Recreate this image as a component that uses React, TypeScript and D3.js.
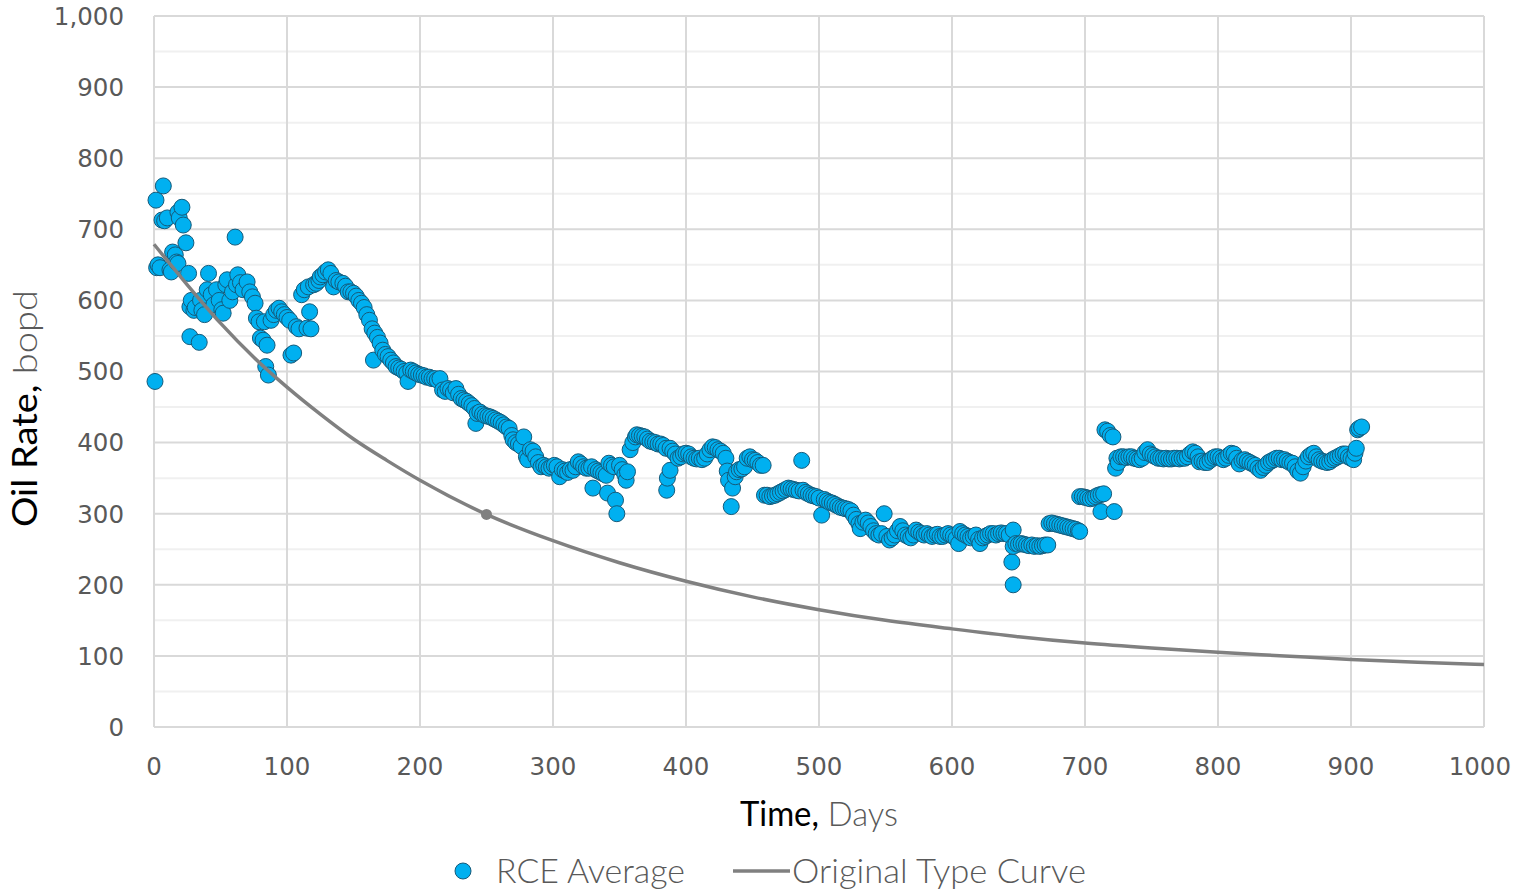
import React from "react";
import * as d3 from "d3";

const xTicks = [0, 100, 200, 300, 400, 500, 600, 700, 800, 900, 1000];
const yTicks = [0, 100, 200, 300, 400, 500, 600, 700, 800, 900, 1000];
const yMinor = [50, 150, 250, 350, 450, 550, 650, 750, 850, 950];

const typeCurve: [number, number][] = [
  [0, 679], [25, 622], [50, 568], [75, 520], [100, 478], [125, 440], [150, 405],
  [175, 375], [200, 347], [250, 299], [300, 262], [350, 231], [400, 205], [450, 183],
  [500, 165], [550, 150], [600, 138], [650, 127], [700, 118], [750, 111], [800, 105],
  [850, 100], [900, 95], [950, 91], [1000, 88],
];
const typeCurveMarker: [number, number] = [250, 299];

const rceAverage: [number, number][] = [
  [0.75, 486], [1.5, 741], [2, 646], [3, 650], [4.5, 646], [6, 713], [7, 761], [8, 712],
  [10, 716], [12, 643], [13, 640], [14, 668], [16, 664], [17, 654], [18, 652], [18, 724],
  [19, 716], [21, 731], [22, 706], [24, 681], [26, 638], [27, 591], [27, 549], [28, 600],
  [30, 586], [31, 590], [34, 541], [35, 600], [36, 586], [38, 580], [40, 615], [41, 638],
  [43, 608], [45, 594], [47, 615], [49, 600], [51, 587], [52, 582], [54, 622], [55, 629],
  [57, 600], [59, 612], [61, 689], [62, 622], [63, 636], [65, 625], [67, 615], [70, 626],
  [72, 612], [74, 605], [76, 596], [77, 575], [79, 570], [80, 547], [82, 544], [83, 570],
  [84, 507], [85, 537], [86, 495], [88, 572], [90, 580], [92, 586], [94, 589], [96, 584],
  [98, 580], [100, 576], [102, 572], [103, 523], [105, 526], [107, 563], [109, 560],
  [111, 608], [113, 615], [115, 561], [116, 619], [117, 584], [118, 560], [120, 622],
  [122, 624], [124, 628], [125, 633], [127, 636], [129, 640], [131, 643], [133, 638],
  [135, 619], [137, 628], [139, 626], [142, 624], [144, 620], [146, 612], [148, 612],
  [150, 610], [152, 606], [154, 600], [156, 596], [158, 590], [160, 580], [162, 572],
  [164, 560], [165, 516], [166, 554], [168, 548], [170, 540], [172, 530], [174, 524],
  [176, 521], [178, 516], [180, 512], [182, 507], [184, 505], [186, 503], [188, 500],
  [190, 498], [191, 486], [193, 502], [195, 500], [197, 498], [199, 496], [201, 495],
  [203, 494], [205, 492], [207, 492], [209, 490], [211, 490], [213, 488], [215, 490],
  [217, 474], [219, 472], [221, 476], [223, 474], [225, 470], [227, 476], [229, 468],
  [231, 462], [233, 460], [235, 458], [237, 455], [239, 452], [241, 448], [242, 427],
  [243, 441], [245, 443], [247, 440], [249, 438], [251, 437], [253, 436], [255, 434],
  [257, 432], [259, 430], [261, 428], [263, 425], [265, 422], [267, 420], [269, 410],
  [270, 404], [272, 400], [274, 398], [276, 395], [278, 408], [280, 380], [281, 376],
  [283, 390], [285, 388], [287, 380], [289, 372], [291, 366], [293, 368], [295, 366],
  [297, 364], [299, 366], [301, 368], [303, 366], [305, 352], [307, 362], [309, 360],
  [311, 358], [313, 362], [315, 361], [317, 366], [319, 373], [321, 370], [323, 366],
  [325, 364], [327, 364], [329, 366], [330, 336], [332, 362], [334, 360], [336, 358],
  [338, 356], [340, 354], [341, 329], [342, 371], [344, 368], [346, 366], [347, 319],
  [348, 300], [350, 368], [352, 362], [354, 355], [355, 347], [356, 359], [358, 390],
  [360, 400], [362, 408], [363, 411], [365, 410], [367, 409], [369, 408], [371, 405],
  [373, 402], [375, 401], [377, 400], [379, 398], [381, 398], [383, 396], [385, 392],
  [385.5, 333], [386, 350], [388, 361], [388, 392], [390, 388], [392, 384], [394, 378],
  [396, 380], [398, 384], [400, 385], [402, 384], [404, 380], [406, 378], [408, 377],
  [410, 378], [412, 376], [414, 378], [416, 384], [418, 390], [420, 394], [422, 393],
  [424, 390], [426, 388], [428, 385], [430, 378], [431, 360], [432, 347], [434, 310],
  [435, 336], [437, 352], [438, 359], [440, 362], [442, 363], [444, 366], [446, 378],
  [448, 380], [450, 376], [452, 375], [454, 372], [456, 368], [458, 368], [459, 326],
  [461, 326], [463, 324], [465, 325], [467, 326], [469, 328], [471, 330], [473, 332],
  [475, 334], [477, 336], [479, 335], [481, 334], [483, 333], [485, 332], [487, 375],
  [488, 333], [490, 330], [492, 328], [494, 326], [496, 325], [498, 324], [500, 322],
  [502, 298], [504, 320], [506, 318], [508, 316], [510, 315], [512, 313], [514, 311],
  [516, 309], [518, 308], [520, 307], [522, 306], [524, 304], [526, 298], [528, 292],
  [530, 286], [531, 279], [533, 288], [535, 291], [537, 287], [539, 282], [541, 276],
  [543, 272], [545, 270], [547, 272], [549, 300], [551, 268], [553, 263], [555, 266],
  [557, 270], [559, 276], [561, 282], [563, 276], [565, 270], [567, 268], [569, 266],
  [571, 270], [573, 277], [575, 274], [577, 272], [579, 270], [581, 272], [583, 270],
  [585, 268], [587, 270], [589, 271], [591, 268], [593, 268], [595, 270], [597, 272],
  [599, 270], [601, 268], [603, 265], [605, 258], [606, 275], [608, 272], [610, 270],
  [612, 268], [614, 266], [616, 268], [618, 270], [620, 264], [621, 258], [623, 266],
  [625, 268], [627, 270], [629, 272], [631, 272], [633, 270], [635, 272], [637, 273],
  [639, 272], [641, 272], [643, 270], [645, 232], [646, 277], [646, 254], [646, 200],
  [648, 258], [650, 257], [652, 258], [654, 257], [656, 256], [658, 255], [660, 256],
  [662, 254], [664, 255], [666, 254], [668, 255], [670, 256], [672, 256], [673, 286],
  [675, 287], [677, 286], [679, 285], [681, 284], [683, 283], [685, 282], [687, 281],
  [689, 280], [691, 279], [693, 278], [695, 276], [696, 275], [696, 324], [698, 324],
  [700, 323], [702, 322], [704, 321], [706, 322], [708, 324], [710, 326], [712, 303],
  [712, 327], [714, 328], [715, 418], [717, 416], [719, 410], [721, 408], [722, 303],
  [723, 364], [724, 378], [725, 372], [727, 380], [729, 380], [731, 379], [733, 380],
  [735, 380], [737, 378], [739, 377], [741, 376], [743, 378], [745, 386], [747, 390],
  [749, 384], [751, 382], [753, 380], [755, 378], [757, 378], [759, 377], [761, 378],
  [763, 377], [765, 377], [767, 378], [769, 378], [771, 377], [773, 378], [775, 378],
  [777, 380], [779, 384], [781, 387], [783, 385], [785, 380], [786, 373], [788, 374],
  [790, 372], [792, 372], [794, 375], [796, 378], [798, 380], [800, 380], [802, 378],
  [804, 376], [806, 378], [808, 382], [810, 385], [812, 384], [814, 378], [816, 370],
  [818, 375], [820, 376], [822, 374], [824, 372], [826, 370], [828, 368], [830, 364],
  [832, 361], [834, 365], [836, 368], [838, 372], [840, 374], [842, 376], [844, 378],
  [846, 378], [848, 376], [850, 376], [852, 374], [854, 372], [856, 371], [858, 366],
  [860, 360], [862, 357], [864, 366], [866, 374], [868, 380], [870, 383], [872, 385],
  [874, 380], [876, 376], [878, 374], [880, 373], [882, 372], [884, 373], [886, 376],
  [888, 378], [890, 380], [892, 382], [894, 384], [896, 384], [898, 380], [900, 378],
  [902, 376], [903, 385], [904, 392], [905, 418], [906, 420], [908, 422],
];

const W = 1513;
const H = 892;
const left = 154;
const right = 1484;
const top = 16;
const bottom = 727;

export default function App() {
  const x = d3.scaleLinear().domain([0, 1000]).range([left, right]);
  const y = d3.scaleLinear().domain([0, 1000]).range([bottom, top]);
  const line = d3
    .line<[number, number]>()
    .x((d) => x(d[0]))
    .y((d) => y(d[1]))
    .curve(d3.curveMonotoneX);
  const tickFont = "'DejaVu Sans', sans-serif";
  const titleFont = "Lato, 'Open Sans', sans-serif";
  return (
    <svg
      width={W}
      height={H}
      style={{ position: "absolute", left: 0, top: 0, background: "#fff" }}
    >
      <rect x={0} y={0} width={W} height={H} fill="#fff" />
      {yMinor.map((v) => (
        <line key={"m" + v} x1={left} x2={right} y1={y(v)} y2={y(v)} stroke="#f0f0f0" strokeWidth={2} />
      ))}
      {yTicks.map((v) => (
        <line key={"h" + v} x1={left} x2={right} y1={y(v)} y2={y(v)} stroke="#d9d9d9" strokeWidth={2} />
      ))}
      {xTicks.map((v) => (
        <line key={"v" + v} x1={x(v)} x2={x(v)} y1={top} y2={bottom} stroke="#d9d9d9" strokeWidth={2} />
      ))}
      {yTicks.map((v) => (
        <text
          key={"yl" + v}
          x={124}
          y={y(v)}
          dy="0.36em"
          textAnchor="end"
          fontFamily={tickFont}
          fontSize={24.5}
          fill="#595959"
        >
          {d3.format(",")(v)}
        </text>
      ))}
      {xTicks.map((v, i) => (
        <text
          key={"xl" + v}
          x={i === xTicks.length - 1 ? 1511 : x(v)}
          y={775}
          textAnchor={i === xTicks.length - 1 ? "end" : "middle"}
          fontFamily={tickFont}
          fontSize={24.5}
          fill="#595959"
        >
          {v}
        </text>
      ))}
      <g>
        {rceAverage.map((d, i) => (
          <circle
            key={"p" + i}
            cx={x(d[0])}
            cy={y(d[1])}
            r={8}
            fill="#00b0f0"
            stroke="#155a7a"
            strokeWidth={1}
          />
        ))}
      </g>
      <path d={line(typeCurve) || ""} fill="none" stroke="#808080" strokeWidth={3.5} />
      <circle cx={x(typeCurveMarker[0])} cy={y(typeCurveMarker[1])} r={5.5} fill="#808080" />
      <text
        x={740}
        y={826}
        fontFamily={titleFont}
        fontSize={34}
        textLength={158}
        lengthAdjust="spacingAndGlyphs"
      >
        <tspan fill="#000">Time,</tspan>
        <tspan fill="#595959" fontWeight={300}> Days</tspan>
      </text>
      <text
        transform="translate(37,527) rotate(-90)"
        x={0}
        y={0}
        fontFamily={titleFont}
        fontSize={34}
        textLength={237}
        lengthAdjust="spacingAndGlyphs"
      >
        <tspan fill="#000">Oil Rate,</tspan>
        <tspan fill="#595959" fontWeight={300}> bopd</tspan>
      </text>
      <circle cx={463} cy={871} r={8} fill="#00b0f0" stroke="#155a7a" strokeWidth={1} />
      <text
        x={496}
        y={883}
        fontFamily={titleFont}
        fontSize={34}
        fontWeight={300}
        fill="#595959"
        textLength={189}
        lengthAdjust="spacingAndGlyphs"
      >
        RCE Average
      </text>
      <line x1={733} x2={790} y1={871} y2={871} stroke="#808080" strokeWidth={3.5} />
      <text
        x={792}
        y={883}
        fontFamily={titleFont}
        fontSize={34}
        fontWeight={300}
        fill="#595959"
        textLength={294}
        lengthAdjust="spacingAndGlyphs"
      >
        Original Type Curve
      </text>
    </svg>
  );
}
